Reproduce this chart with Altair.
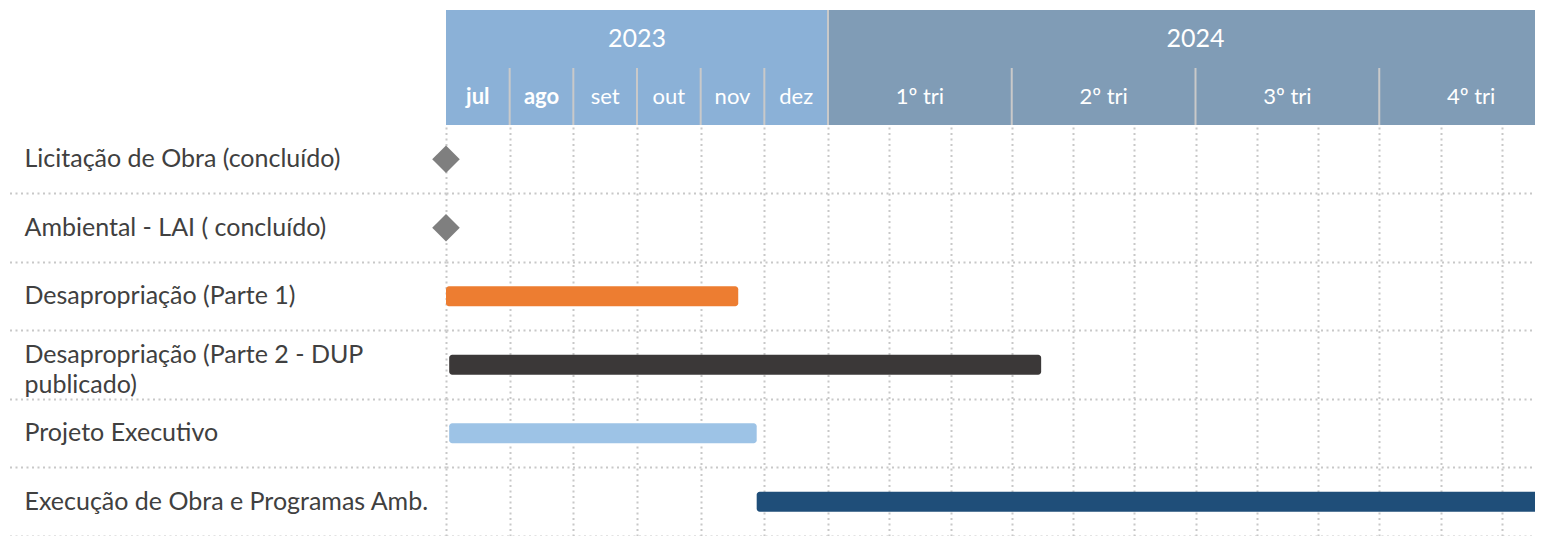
import altair as alt
import pandas as pd

# ---- data ----
tasks = [
    "Licitação de Obra (concluído)",
    "Ambiental - LAI ( concluído)",
    "Desapropriação (Parte 1)",
    "Desapropriação (Parte 2 - DUP\npublicado)",
    "Projeto Executivo",
    "Execução de Obra e Programas Amb.",
]
# months counted from 1 July 2023
task_start = [0.0, 0.0, 0.0, 0.05, 0.05, 4.88]
task_end = [0.0, 0.0, 4.59, 9.48, 4.88, 18.0]
task_type = ["marco", "marco", "barra", "barra", "barra", "barra"]
task_colors = ["#7F7F7F", "#7F7F7F", "#ED7D31", "#3B3838", "#9DC3E6", "#1F4E79"]

years = ["2023", "2024"]
year_start = [0, 6]
year_end = [6, 18]
year_colors = ["#8BB1D7", "#809CB6"]

periods = ["jul", "ago", "set", "out", "nov", "dez", "1º tri", "2º tri", "3º tri", "4º tri"]
period_start = [0, 1, 2, 3, 4, 5, 6, 9, 12, 15]
period_end = [1, 2, 3, 4, 5, 6, 9, 12, 15, 18]
period_year = ["2023"] * 6 + ["2024"] * 4
period_bold = [True, True] + [False] * 8

month_grid = list(range(0, 18))

task_df = pd.DataFrame({"task": tasks, "start": task_start, "end": task_end, "type": task_type})
year_df = pd.DataFrame({"year": years, "start": year_start, "end": year_end})
period_df = pd.DataFrame({"label": periods, "start": period_start, "end": period_end,
                          "year": period_year, "bold": period_bold})

FONT = "Lato"
GRID = "#C8C8C8"
DASH = [2, 3.5]

x_scale = alt.Scale(domain=[0, 6, 18], range=[0, 382, 1117])
x_axis = alt.Axis(values=month_grid, labels=False, ticks=False, domain=False, grid=True,
                  gridDash=DASH, gridColor=GRID, gridWidth=2, title=None)


def X(field):
    return alt.X(field, type="quantitative", scale=x_scale, axis=x_axis, title=None)


def X2(field):
    return alt.X2(field)


multi_test = "indexof(datum.label, '\\n') >= 0"

y_enc = alt.Y(
    "task:N", sort=tasks, title=None,
    scale=alt.Scale(domain=tasks, paddingInner=0, paddingOuter=0),
    axis=alt.Axis(
        orient="left", domain=False, ticks=True, bandPosition=1, tickSize=438,
        tickColor=GRID, tickWidth=2, tickDash=DASH,
        grid=True, gridColor=GRID, gridWidth=2, gridDash=DASH,
        labelAlign="left", labelPadding=-16, labelFont=FONT, labelFontSize=25,
        labelColor="#404040", labelLimit=0, labelBaseline="middle",
        labelExpr="split(datum.label, '\\n')", labelLineHeight=30,
        labelOffset=alt.condition(multi_test, alt.value(-10), alt.value(0)),
    ),
)

color_enc = alt.Color("task:N", scale=alt.Scale(domain=tasks, range=task_colors), legend=None)

bars = alt.Chart(task_df).transform_filter(alt.datum.type == "barra").mark_bar(
    cornerRadius=3, size=20
).encode(x=X("start"), x2=X2("end"), y=y_enc, color=color_enc)

marcos = alt.Chart(task_df).transform_filter(alt.datum.type == "marco").mark_point(
    shape="diamond", filled=True, size=760, opacity=1
).encode(x=X("start"), y=y_enc, color=color_enc)

fill_enc = alt.Fill("year:N", scale=alt.Scale(domain=years, range=year_colors), legend=None)

year_rects = alt.Chart(year_df).mark_rect().encode(
    x=X("start"), x2=X2("end"), y=alt.value(-115), y2=alt.value(-57), fill=fill_enc
)
period_rects = alt.Chart(period_df).mark_rect().encode(
    x=X("start"), x2=X2("end"), y=alt.value(-57), y2=alt.value(0), fill=fill_enc
)
period_sep = alt.Chart(period_df).transform_filter(alt.datum.start > 0).mark_rule(
    color="#C9C9C9", strokeWidth=2
).encode(x=X("start"), y=alt.value(-57), y2=alt.value(0))
year_sep = alt.Chart(year_df).transform_filter(alt.datum.start > 0).mark_rule(
    color="#C9C9C9", strokeWidth=2
).encode(x=X("start"), y=alt.value(-115), y2=alt.value(-57))

year_text = alt.Chart(year_df).transform_calculate(mid="(datum.start + datum.end) / 2").mark_text(
    font=FONT, fontSize=25, color="white", baseline="middle", align="center"
).encode(x=X("mid"), y=alt.value(-86), text="year:N")

period_text_bold = alt.Chart(period_df).transform_filter(alt.datum.bold).transform_calculate(
    mid="(datum.start + datum.end) / 2"
).mark_text(font=FONT, fontSize=22, fontWeight="bold", color="white", baseline="middle",
            align="center").encode(x=X("mid"), y=alt.value(-28), text="label:N")

period_text = alt.Chart(period_df).transform_filter(~alt.datum.bold).transform_calculate(
    mid="(datum.start + datum.end) / 2"
).mark_text(font=FONT, fontSize=22, color="white", baseline="middle",
            align="center").encode(x=X("mid"), y=alt.value(-28), text="label:N")

chart = alt.layer(
    bars, marcos, year_rects, period_rects, period_sep, year_sep,
    year_text, period_text_bold, period_text
).properties(
    width=1089, height=411,
    autosize=alt.AutoSizeParams(type="none"),
    padding={"left": 438, "top": 117, "right": 0, "bottom": 0},
    background="white",
).configure_view(stroke=None)

chart.save("out.html", embed_options={"renderer": "svg", "actions": False})
